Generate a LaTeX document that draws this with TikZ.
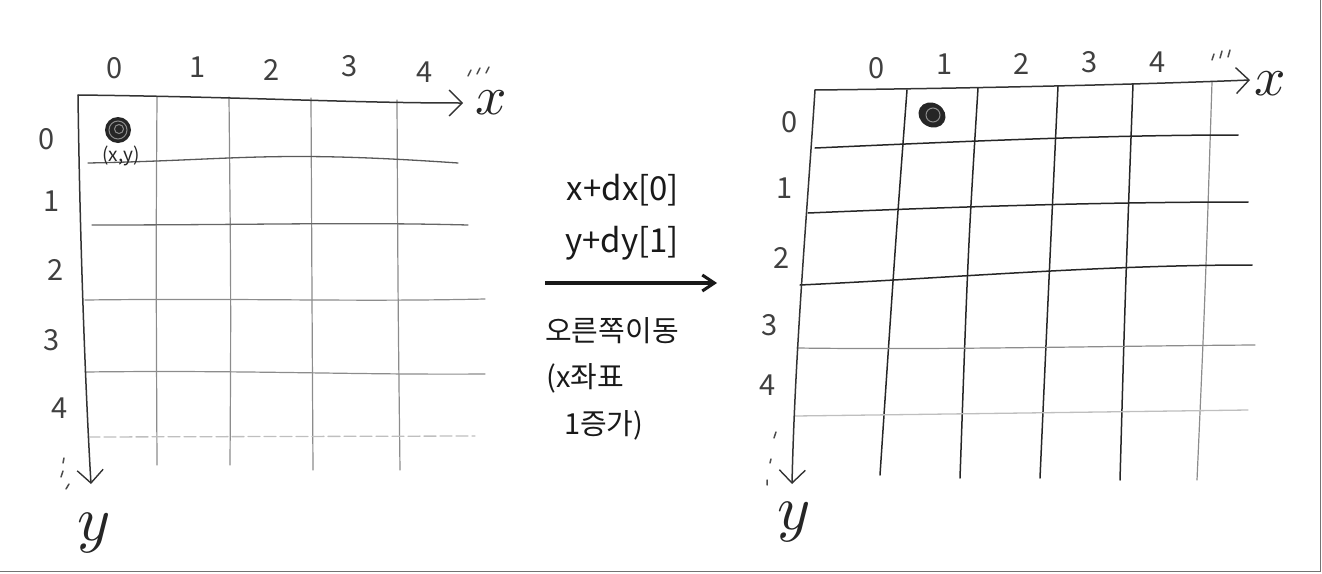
\documentclass[tikz,border=0pt]{standalone}
\usepackage{fontspec}
\setmainfont{Noto Sans CJK KR}
\usetikzlibrary{arrows.meta}
\tikzset{
  pencil/.style={draw=black!45, line width=1.2pt, line cap=round},
  ink/.style={draw=black!85, line width=1.5pt, line cap=round},
  faint/.style={draw=black!25, line width=1.3pt, line cap=round},
  axis/.style={draw=black!80, line width=1.5pt, line cap=round, -{Straight Barb[length=13pt,width=26pt,line width=1.4pt]}},
  lbl/.style={inner sep=0pt, text=black!75, font=\fontsize{29}{30}\selectfont},
  axlbl/.style={inner sep=0pt, text=black!85, scale=5.5},
  midtxt/.style={inner sep=0pt, text=black!90, font=\fontsize{33}{36}\selectfont},
  kortxt/.style={inner sep=0pt, text=black!90, font=\fontsize{29}{32}\selectfont},
  tick/.style={draw=black!70, line width=1.5pt, line cap=round}
}
\begin{document}
\begin{tikzpicture}[x=1pt,y=-1pt]
\useasboundingbox (0,0) rectangle (1322,573);
\draw[black!55, line width=1pt] (1320.5,0) -- (1320.5,571.5) -- (0,571.5);

% ================= LEFT GRID =================
\coordinate (LO) at (78,95);
\coordinate (LXend) at (463,103);
\coordinate (LYend) at (91,484);
% verticals
\draw[pencil] (157,97) .. controls (156,250) .. (157,465);
\draw[pencil] (229,97) .. controls (231,300) .. (230,465);
\draw[pencil] (311,98) .. controls (312,300) .. (313,470);
\draw[pencil] (397,100) .. controls (398,300) .. (400,470);
% horizontals
\draw[black!65, line width=1.3pt, line cap=round] (88,163) .. controls (240,160) and (270,150) .. (458,163);
\draw[black!60, line width=1.3pt, line cap=round] (92,225) .. controls (250,225) and (350,222) .. (468,225);
\draw[pencil] (85,300) .. controls (250,298) and (350,302) .. (485,299);
\draw[pencil] (85,372) .. controls (250,370) and (350,375) .. (485,374);
\draw[faint, dash pattern=on 12pt off 4pt] (88,437) -- (475,436);
% axes
\draw[axis] (LO) .. controls (250,97) and (350,103) .. (LXend);
\draw[axis] (LO) .. controls (80,250) and (86,400) .. (LYend);
\node[axlbl] (lx) at (491,103) {$x$};
\node[axlbl, scale=1.15] (ly) at (94,533) {$y$};
% column labels
\node[lbl] (lc0) at (115,68) {0};
\node[lbl] (lc1) at (198,67) {1};
\node[lbl] (lc2) at (272,70) {2};
\node[lbl] (lc3) at (350,66) {3};
\node[lbl] (lc4) at (425,72) {4};
\draw[tick] (468,76) -- (471,70) (477,74) -- (480,68) (486,73) -- (489,67);
% row labels
\node[lbl] (lr0) at (47,139) {0};
\node[lbl] (lr1) at (52,201) {1};
\node[lbl] (lr2) at (56,270) {2};
\node[lbl] (lr3) at (52,340) {3};
\node[lbl] (lr4) at (60,408) {4};
\draw[tick] (63,463) -- (64,458) (61,477) -- (63,471) (66,489) -- (69,484);
% dot
\fill[black!85] (118,130) circle (13);
\draw[black!45, line width=1pt] (118,130) circle (9) (119,129) circle (4.5);
\node[inner sep=0pt, text=black!85, font=\fontsize{19}{19}\selectfont] (lxy) at (121,156) {(x,y)};

% ================= MIDDLE =================
\node[midtxt] (m1) at (623,190) {x+dx[0]};
\node[midtxt] (m2) at (622,243) {y+dy[1]};
\coordinate (ma) at (545,283);
\coordinate (mb) at (717,283);
\draw[black!90, line width=4pt, -{Straight Barb[length=12pt,width=16pt,line width=3pt]}] (ma) -- (mb);
\node[kortxt] (m3) at (612,331) {오른쪽이동};
\node[kortxt, anchor=west] (m4) at (546,378) {(x좌표};
\node[kortxt, anchor=west] (m5) at (564,425) {1증가)};

% ================= RIGHT GRID =================
\coordinate (RO) at (815,90);
\coordinate (RXend) at (1250,80);
\coordinate (RYend) at (792,484);
% verticals
\draw[ink] (907,90) .. controls (895,250) .. (880,475);
\draw[ink] (978,88) .. controls (968,250) .. (960,478);
\draw[ink] (1058,86) .. controls (1048,300) .. (1040,478);
\draw[ink] (1133,84) .. controls (1125,300) .. (1120,480);
\draw[pencil] (1212,82) .. controls (1205,300) .. (1197,480);
% horizontals
\draw[ink] (815,148) .. controls (950,142) and (1100,135) .. (1238,135);
\draw[ink] (808,213) .. controls (950,207) and (1100,202) .. (1248,202);
\draw[ink] (800,285) .. controls (950,278) and (1100,265) .. (1252,265);
\draw[pencil] (797,348) .. controls (950,350) and (1100,346) .. (1255,345);
\draw[faint] (795,416) .. controls (950,414) and (1100,412) .. (1248,410);
% axes
\draw[axis] (RO) .. controls (1000,88) and (1150,84) .. (RXend);
\draw[axis] (RO) .. controls (808,200) and (795,350) .. (RYend);
\node[axlbl] (rx) at (1270,84) {$x$};
\node[axlbl, scale=1.15] (ry) at (794,522) {$y$};
% column labels
\node[lbl] (rc0) at (877,68) {0};
\node[lbl] (rc1) at (945,64) {1};
\node[lbl] (rc2) at (1022,64) {2};
\node[lbl] (rc3) at (1090,62) {3};
\node[lbl] (rc4) at (1158,62) {4};
\draw[tick] (1212,60) -- (1214,54) (1220,58) -- (1222,51) (1228,57) -- (1230,50);
% row labels
\node[lbl] (rr0) at (790,122) {0};
\node[lbl] (rr1) at (785,188) {1};
\node[lbl] (rr2) at (782,258) {2};
\node[lbl] (rr3) at (770,325) {3};
\node[lbl] (rr4) at (768,385) {4};
\draw[tick] (774,438) -- (776,432) (770,463) -- (771,459) (767,485) -- (767,480);
% dot
\fill[black!85, rotate around={-30:(932,115)}] (932,115) ellipse (14 and 12);
\draw[black!45, line width=1pt] (933,115) circle (7);
\end{tikzpicture}
\end{document}
